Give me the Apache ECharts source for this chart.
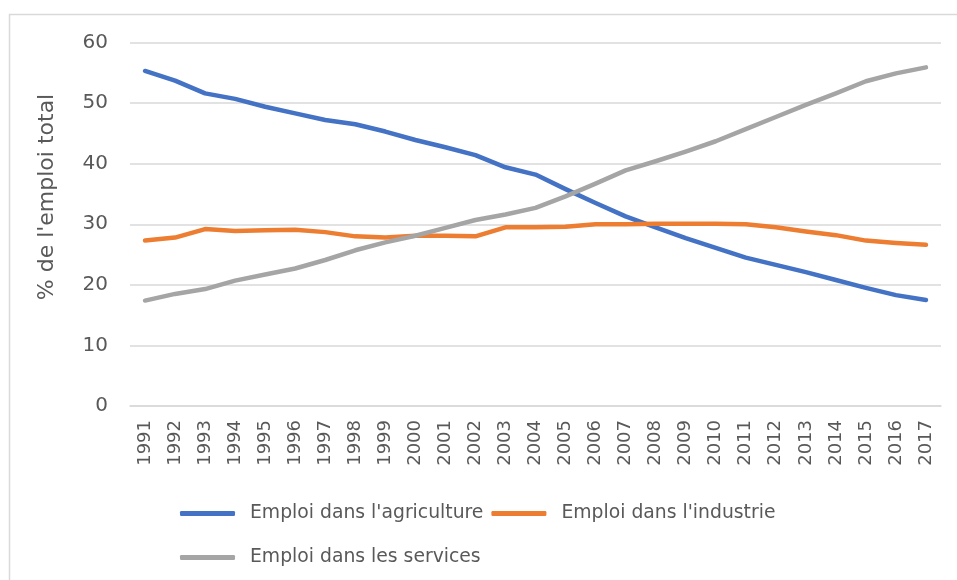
<!DOCTYPE html>
<html>
<head>
<meta charset="utf-8">
<script src="https://cdn.jsdelivr.net/npm/echarts@6/dist/echarts.min.js"></script>
<style>
  html, body { margin: 0; padding: 0; background: #fff; }
  #chart { width: 957px; height: 580px; }
</style>
</head>
<body>
<div id="chart"></div>
<script>
// annees et parts de l'emploi total (%)
var annees = ['1991', '1992', '1993', '1994', '1995', '1996', '1997', '1998', '1999', '2000',
    '2001', '2002', '2003', '2004', '2005', '2006', '2007', '2008', '2009', '2010',
    '2011', '2012', '2013', '2014', '2015', '2016', '2017'];

var agriculture = [55.3, 53.7, 51.6, 50.7, 49.4, 48.3, 47.2, 46.5, 45.3, 43.9,
    42.7, 41.4, 39.4, 38.2, 35.8, 33.5, 31.3, 29.5, 27.7, 26.1,
    24.5, 23.3, 22.1, 20.8, 19.5, 18.3, 17.5];

var industrie = [27.3, 27.8, 29.2, 28.9, 29.0, 29.1, 28.7, 28.0, 27.8, 28.1,
    28.1, 28.0, 29.5, 29.5, 29.6, 30.0, 30.0, 30.1, 30.1, 30.1,
    30.0, 29.5, 28.8, 28.2, 27.3, 26.9, 26.6];

var services = [17.4, 18.5, 19.3, 20.7, 21.7, 22.7, 24.1, 25.7, 27.0, 28.1,
    29.4, 30.7, 31.6, 32.7, 34.6, 36.7, 38.9, 40.4, 42.0, 43.7,
    45.7, 47.7, 49.7, 51.6, 53.6, 54.9, 55.9];

var noms = ["Emploi dans l'agriculture", "Emploi dans l'industrie", "Emploi dans les services"];
var couleurs = ['#4472C4', '#ED7D31', '#A5A5A5'];

document.addEventListener('DOMContentLoaded', function () {
    var myChart = echarts.init(document.getElementById('chart'));
    var police = 'DejaVu Sans';

    function serie(nom, data, couleur) {
        return {
            name: nom,
            type: 'line',
            data: data,
            symbol: 'none',
            smooth: false,
            itemStyle: { color: couleur },
            lineStyle: { color: couleur, width: 4.5, cap: 'round', join: 'round' }
        };
    }

    var legende = {
        orient: 'horizontal',
        icon: 'roundRect',
        itemWidth: 55,
        itemHeight: 5,
        itemGap: 8,
        textStyle: { fontFamily: police, fontSize: 18.8, color: '#595959', padding: [0, 0, 0, 10] }
    };

    var option = {
        animation: false,
        backgroundColor: '#fff',
        graphic: [
            {
                type: 'rect',
                shape: { x: 9.5, y: 14.5, width: 960, height: 600 },
                style: { fill: null, stroke: '#D9D9D9', lineWidth: 1.5 },
                silent: true
            },
            {
                type: 'text',
                x: 47,
                y: 197,
                rotation: Math.PI / 2,
                style: {
                    text: "% de l'emploi total",
                    fontFamily: police,
                    fontSize: 22,
                    fill: '#595959',
                    align: 'center',
                    verticalAlign: 'middle'
                }
            }
        ],
        grid: { left: 130, right: 16, top: 42.5, bottom: 174 },
        legend: [
            Object.assign({ left: 175, top: 499, data: [noms[0], noms[1]] }, legende),
            Object.assign({ left: 175, top: 543, data: [noms[2]] }, legende)
        ],
        xAxis: {
            type: 'category',
            data: annees,
            boundaryGap: true,
            axisLine: { show: true, lineStyle: { color: '#D9D9D9', width: 1.5 } },
            axisTick: { show: false },
            axisLabel: {
                rotate: 90,
                margin: 14,
                interval: 0,
                fontFamily: police,
                fontSize: 18,
                color: '#595959'
            }
        },
        yAxis: {
            type: 'value',
            min: 0,
            max: 60,
            interval: 10,
            axisLine: { show: false },
            axisTick: { show: false },
            splitLine: { lineStyle: { color: '#D9D9D9', width: 1.5 } },
            axisLabel: { margin: 22, fontFamily: police, fontSize: 20, color: '#595959' }
        },
        series: [
            serie(noms[0], agriculture, couleurs[0]),
            serie(noms[1], industrie, couleurs[1]),
            serie(noms[2], services, couleurs[2])
        ]
    };

    option && myChart.setOption(option);
});
</script>
</body>
</html>
